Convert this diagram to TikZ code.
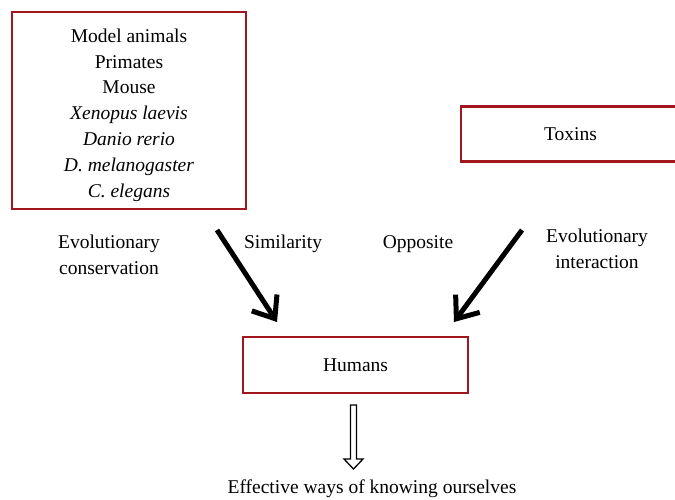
\documentclass[tikz,border=0pt]{standalone}
\usepackage{fontspec}
\setmainfont{Liberation Serif}
\usetikzlibrary{arrows.meta}
\definecolor{boxred}{RGB}{162,22,30}
\tikzset{
  redbox/.style={draw=boxred, line width=2.6pt, inner sep=0pt, align=center},
  lbl/.style={align=center, inner sep=0pt},
  bigarrow/.style={line width=5pt, -{Straight Barb[length=19pt,width=30pt]}},
  hollow/.style={line width=1.3pt, line join=miter},
}
\begin{document}
\begin{tikzpicture}[x=1pt,y=-1pt,font=\fontsize{19.5}{25.8}\selectfont]
\useasboundingbox (0,0) rectangle (675,499);
\clip (0,0) rectangle (675,499);
\fill[white] (0,0) rectangle (675,499);
\node[redbox, minimum width=234pt, minimum height=197pt] (models) at (129,110.5) {};
\node[lbl] (modeltext) at (129,115)
  {Model animals\\Primates\\Mouse\\\textit{Xenopus laevis}\\\textit{Danio rerio}\\\textit{D. melanogaster}\\\textit{C. elegans}};
\node[redbox, minimum width=219pt, minimum height=55pt] (toxins) at (570.5,134) {Toxins};
\node[redbox, minimum width=225pt, minimum height=56pt] (humans) at (355.5,365) {Humans};
\node[lbl] (cons) at (109,255) {Evolutionary\\conservation};
\node[lbl] (inter) at (597,248.5) {Evolutionary\\interaction};
\node[lbl] (sim) at (283,244) {Similarity};
\node[lbl] (opp) at (418,244) {Opposite};
\node[lbl, anchor=base] (eff) at (372,493.5) {Effective ways of knowing ourselves};
\coordinate (s1) at (217,230);
\coordinate (t1) at (277,322);
\coordinate (s2) at (522,230);
\coordinate (t2) at (454,322);
\draw[bigarrow] (s1) -- (t1);
\draw[bigarrow] (s2) -- (t2);
\draw[hollow] (350.5,405) -- (356.5,405) -- (356.5,459) -- (363,459) -- (353.5,469) -- (344,459) -- (350.5,459) -- cycle;
\end{tikzpicture}
\end{document}
